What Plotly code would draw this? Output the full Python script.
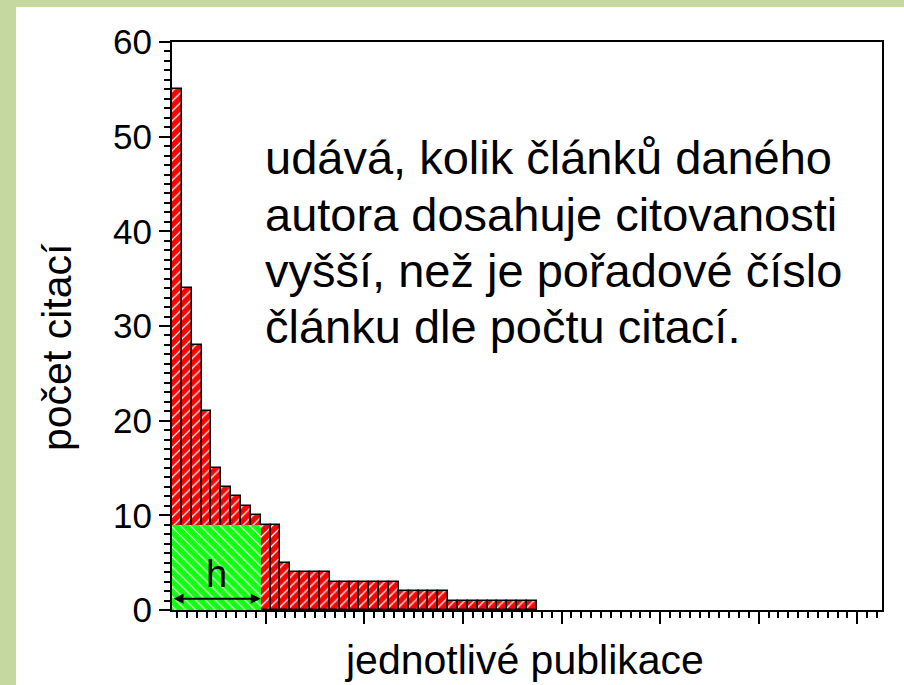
import plotly.graph_objects as go

# ---- data ----
citations = [55, 34, 28, 21, 15, 13, 12, 11, 10, 9, 9, 5, 4, 4, 4, 4,
             3, 3, 3, 3, 3, 3, 3, 2, 2, 2, 2, 2, 1, 1, 1, 1, 1, 1, 1, 1, 1]
ranks = list(range(1, len(citations) + 1))
h_index = max(k for k, c in zip(ranks, citations) if c >= k)
y_ticks = [0, 10, 20, 30, 40, 50, 60]
x_major = [10, 20, 30, 40, 50, 60, 70]
text_lines = ["udává, kolik článků daného",
              "autora dosahuje citovanosti",
              "vyšší, než je pořadové číslo",
              "článku dle počtu citací."]
x_title = "jednotlivé publikace"
y_title = "počet citací"

FONT = "Arial, Liberation Sans, sans-serif"
W, H = 904, 685
L, R, T, B = 172, 882, 42, 610   # plot area in pixels


def px(x):
    return (x - L) / (R - L)


def py(y):
    return (B - y) / (B - T)


fig = go.Figure()

fig.add_trace(go.Bar(
    x=ranks, y=citations, width=1,
    marker=dict(color="#ff0000",
                line=dict(color="black", width=1.5),
                pattern=dict(shape="/", fgcolor="#ffffff", bgcolor="#ff0000",
                             size=7, solidity=0.18, fillmode="replace")),
    showlegend=False, hoverinfo="skip"))

fig.add_trace(go.Bar(
    x=[(h_index + 1) / 2], y=[h_index], width=[h_index],
    marker=dict(color="#11ff11",
                line=dict(color="#11ff11", width=0),
                pattern=dict(shape="\\", fgcolor="#ffffff", bgcolor="#11ff11",
                             size=7, solidity=0.15, fillmode="replace")),
    showlegend=False, hoverinfo="skip"))

# double-headed arrow for h
fig.add_annotation(x=h_index + 0.5, y=1.2, ax=0.5, ay=1.2,
                   xref="x", yref="y", axref="x", ayref="y",
                   text="", showarrow=True, arrowhead=2, startarrowhead=2,
                   arrowside="end+start", arrowsize=1, arrowwidth=2,
                   arrowcolor="black")
fig.add_annotation(x=(h_index + 1) / 2, y=3.8, xref="x", yref="y",
                   text="h", showarrow=False,
                   font=dict(family=FONT, size=38, color="black"))

# explanatory text
baselines = [165, 221, 277, 333]
for line, b in zip(text_lines, baselines):
    fig.add_annotation(x=px(263), y=py(b - 7), xref="paper", yref="paper",
                       xanchor="left", yanchor="middle", text=line,
                       showarrow=False,
                       font=dict(family=FONT, size=47, color="black"))

# axis titles
fig.add_annotation(x=px(57), y=py(347), xref="paper", yref="paper",
                   text=y_title, textangle=-90, showarrow=False,
                   xanchor="center", yanchor="middle",
                   font=dict(family=FONT, size=41, color="black"))
fig.add_annotation(x=px(524), y=py(660), xref="paper", yref="paper",
                   text=x_title, showarrow=False,
                   xanchor="center", yanchor="middle",
                   font=dict(family=FONT, size=41, color="black"))

# green frame strips
GREEN = "#c5d89f"
fig.add_shape(type="rect", xref="paper", yref="paper",
              x0=px(0), x1=px(16), y0=py(H), y1=py(0),
              fillcolor=GREEN, line=dict(width=0), layer="below")
fig.add_shape(type="rect", xref="paper", yref="paper",
              x0=px(0), x1=px(W), y0=py(7), y1=py(0),
              fillcolor=GREEN, line=dict(width=0), layer="below")

fig.update_layout(
    width=W, height=H,
    margin=dict(l=L, r=W - R, t=T, b=H - B, pad=0),
    paper_bgcolor="white", plot_bgcolor="white",
    barmode="overlay", bargap=0,
    font=dict(family=FONT, color="black"),
)

fig.update_xaxes(range=[0.5, 72.5], showgrid=False, zeroline=False,
                 showline=True, linecolor="black", linewidth=2, mirror=True,
                 ticks="outside", tickvals=x_major, ticklen=12, tickwidth=2,
                 tickcolor="black", showticklabels=False,
                 minor=dict(ticks="outside", dtick=1, tick0=0, ticklen=6,
                            tickwidth=1.5, tickcolor="black", showgrid=False))
fig.update_yaxes(range=[0, 60], showgrid=False, zeroline=False,
                 showline=True, linecolor="black", linewidth=2, mirror=True,
                 ticks="outside", tickvals=y_ticks, ticklen=11, tickwidth=2,
                 tickcolor="black",
                 tickfont=dict(family=FONT, size=35, color="black"),
                 minor=dict(ticks="outside", dtick=1, tick0=0, ticklen=6,
                            tickwidth=1.5, tickcolor="black", showgrid=False))

fig.write_html("out.html", config={"displayModeBar": False},
               post_script="document.body.style.margin='0';")
